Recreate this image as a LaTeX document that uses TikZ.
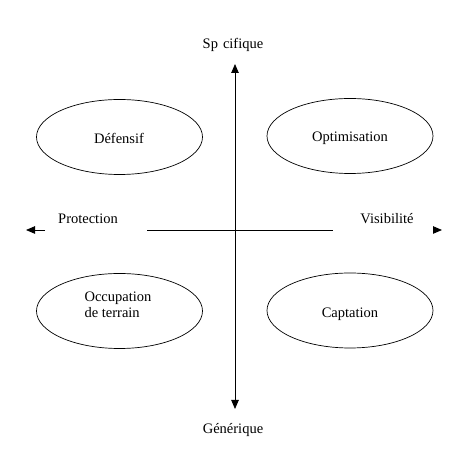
\documentclass[tikz,border=0pt]{standalone}
\usepackage{fontspec}
\setmainfont{Liberation Serif}
\usetikzlibrary{arrows.meta,shapes.geometric}
\begin{document}
\begin{tikzpicture}[x=1pt,y=-1pt,
  oval/.style={draw,line width=0.7pt,ellipse,minimum width=166pt,minimum height=75pt,inner sep=0pt},
  lbl/.style={font=\rmfamily\fontsize{14.5}{16.5}\selectfont,inner sep=0pt},
  axis/.style={line width=0.8pt},
  tip/.style={-{Triangle[length=9pt,width=7.5pt]}}]
\useasboundingbox (0,0) rectangle (475,449);
% ellipses
\node[oval] (def) at (119.5,137) {};
\node[oval] (opt) at (350,136) {};
\node[oval] (occ) at (119.5,311) {};
\node[oval] (cap) at (350,310.5) {};
\node[lbl] at (119,138) {Défensif};
\node[lbl] at (350,138) {Optimisation};
\node[lbl] at (350,314) {Captation};
\node[lbl,align=left] at (118,305) {Occupation\\de terrain};
% axis labels
\node[lbl] (top) at (233,45) {Sp\hspace{5pt}cifique};
\node[lbl] (bot) at (233,430) {Générique};
\node[lbl] (prot) at (88,219) {Protection};
\node[lbl] (vis) at (387,219) {Visibilité};
% axes
\coordinate (vt) at (235,64);
\coordinate (vb) at (235,409);
\draw[axis,{Triangle[length=9pt,width=7.5pt]}-{Triangle[length=9pt,width=7.5pt]}] (vb) -- (vt);
\coordinate (hl) at (147,230);
\coordinate (hr) at (333,230);
\draw[axis] (hl) -- (hr);
\coordinate (la) at (45,230);
\coordinate (lt) at (26,230);
\draw[axis,tip] (la) -- (lt);
\coordinate (ra) at (433,230);
\coordinate (rt) at (442,230);
\draw[axis,tip] (ra) -- (rt);
\end{tikzpicture}
\end{document}
